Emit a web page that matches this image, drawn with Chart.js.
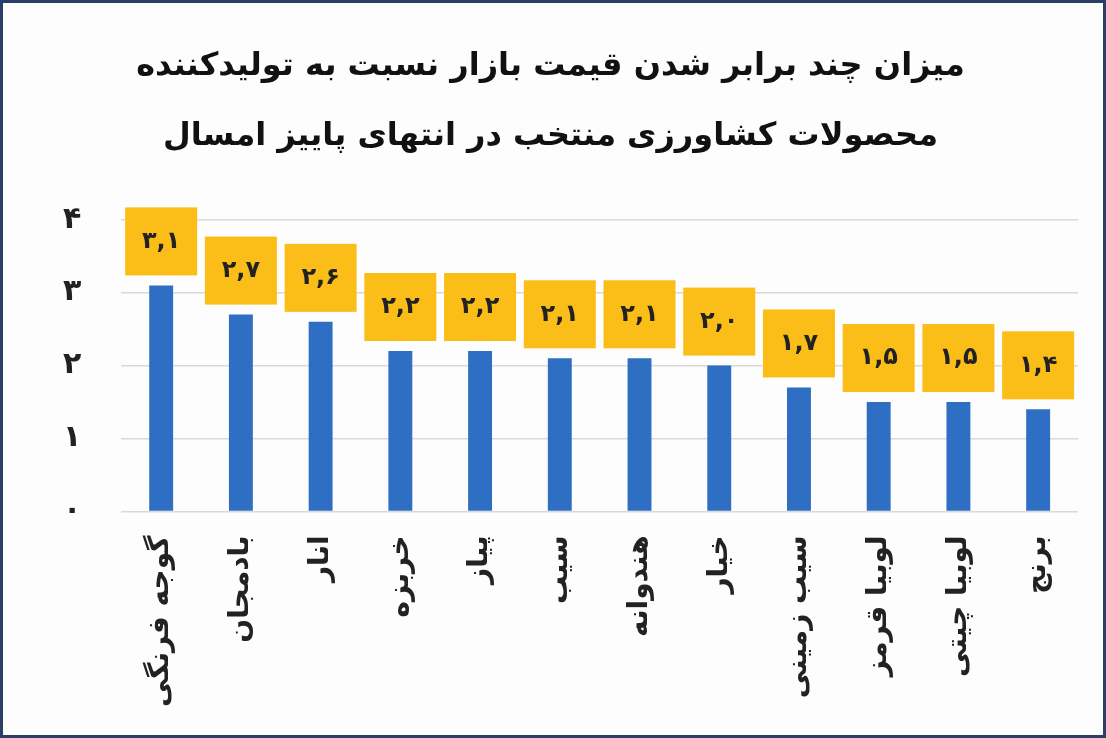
<!DOCTYPE html>
<html>
<head>
<meta charset="utf-8">
<script src="https://cdn.jsdelivr.net/npm/chart.js@4"></script>
<style>
  html, body { margin: 0; padding: 0; background: #fff; }
  #wrap { width: 1100px; height: 732px; border: 3px solid #2a3f66; background: #fdfdfd; }
</style>
</head>
<body>
<div id="wrap"><canvas id="chart" width="1100" height="732"></canvas></div>
<script>
// ===============================
// Data
// ===============================
const categories = ["گوجه فرنگی", "بادمجان", "انار", "خربزه", "پیاز", "سیب", "هندوانه", "خیار", "سیب زمینی", "لوبیا قرمز", "لوبیا چیتی", "برنج"];
const ratios = [3.1, 2.7, 2.6, 2.2, 2.2, 2.1, 2.1, 2.0, 1.7, 1.5, 1.5, 1.4];
const titleLines = ["میزان چند برابر شدن قیمت بازار نسبت به تولیدکننده", "محصولات کشاورزی منتخب در انتهای پاییز امسال"];

const FONT = "'DejaVu Sans', sans-serif";
const toFa = s => String(s).replace(/\d/g, d => "۰۱۲۳۴۵۶۷۸۹"[d]).replace(".", ",");

// yellow value boxes above bars
const boxLabels = {
    id: "boxLabels",
    afterDatasetsDraw(chart) {
        const ctx = chart.ctx;
        const meta = chart.getDatasetMeta(0);
        ctx.save();
        meta.data.forEach((bar, i) => {
            const w = 72, h = 68;
            const bottom = bar.y - 10;
            ctx.fillStyle = "#fbbd18";
            ctx.fillRect(bar.x - w / 2, bottom - h, w, h);
            ctx.fillStyle = "#222";
            ctx.font = "bold 24px " + FONT;
            ctx.textAlign = "center";
            ctx.textBaseline = "middle";
            ctx.fillText(toFa(ratios[i].toFixed(1)), bar.x, bottom - h / 2);
        });
        ctx.restore();
    }
};

new Chart(document.getElementById("chart"), {
    type: "bar",
    data: {
        labels: categories,
        datasets: [{
            data: ratios,
            backgroundColor: "#2e6fc4",
            barPercentage: 0.3,
            categoryPercentage: 1
        }]
    },
    options: {
        responsive: false,
        animation: false,
        layout: { padding: { top: 10, right: 25, left: 20, bottom: 12 } },
        scales: {
            x: {
                grid: { display: false },
                border: { display: false },
                ticks: {
                    minRotation: 90,
                    maxRotation: 90,
                    color: "#222",
                    padding: 16,
                    font: { family: FONT, size: 28, weight: "bold" }
                }
            },
            y: {
                min: 0,
                max: 4,
                border: { display: false },
                grid: { color: "#d9d9d9", lineWidth: 1.5, drawTicks: false },
                ticks: {
                    stepSize: 1,
                    padding: 40,
                    color: "#222",
                    callback: v => toFa(v),
                    font: { family: FONT, size: 30, weight: "bold" }
                }
            }
        },
        plugins: {
            legend: { display: false },
            tooltip: { enabled: false },
            title: {
                display: true,
                text: titleLines,
                color: "#111",
                font: { family: FONT, size: 32, weight: "bold", lineHeight: 2.2 },
                padding: { top: 18, bottom: 48 }
            }
        }
    },
    plugins: [boxLabels]
});
</script>
</body>
</html>
